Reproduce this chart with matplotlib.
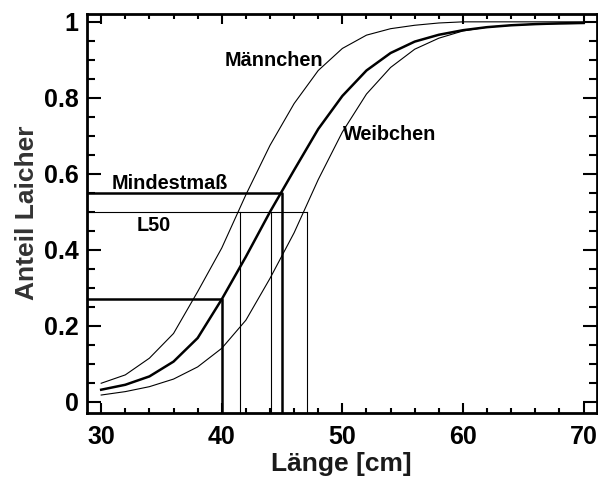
import numpy as np
import matplotlib
matplotlib.use("Agg")
import matplotlib.pyplot as plt
from matplotlib.ticker import MultipleLocator

plt.rcParams['font.family'] = ['Liberation Sans', 'DejaVu Sans']
plt.rcParams['font.weight'] = 'bold'

# Laenge in cm, Anteil geschlechtsreifer Fische
laenge = [30, 32, 34, 36, 38, 40, 42, 44, 46, 48, 50, 52, 54, 56, 58, 60,
          62, 64, 66, 68, 70]
maennchen = [0.049, 0.071, 0.115, 0.180, 0.290, 0.405, 0.545, 0.675, 0.785,
             0.872, 0.930, 0.965, 0.982, 0.991, 0.997, 1.0, 1.0, 1.0, 1.0,
             1.0, 1.0]
gesamt = [0.032, 0.045, 0.067, 0.106, 0.168, 0.270, 0.382, 0.500, 0.610,
          0.718, 0.805, 0.872, 0.918, 0.948, 0.966, 0.978, 0.986, 0.991,
          0.994, 0.996, 0.997]
weibchen = [0.018, 0.027, 0.040, 0.060, 0.092, 0.141, 0.215, 0.325, 0.445,
            0.585, 0.710, 0.810, 0.880, 0.928, 0.957, 0.976, 0.986, 0.991,
            0.994, 0.995, 0.996]

# Mindestmass und L50-Werte
mindestmass = [(40, 0.27), (45, 0.55)]
l50 = [41.5, 44.1, 47.05]
l50_anteil = 0.5

xlo, xhi = 28.8, 71.1
ylo, yhi = -0.028, 1.021

fig = plt.figure(figsize=(5.98, 4.78), dpi=100)
ax = fig.add_axes([0.145, 0.137, 0.853, 0.834])

ax.plot(laenge, maennchen, color='black', lw=0.8)
ax.plot(laenge, weibchen, color='black', lw=0.8)
ax.plot(laenge, gesamt, color='black', lw=1.8)

for x, y in mindestmass:
    ax.plot([xlo, x, x], [y, y, ylo], color='black', lw=1.8)
for x in l50:
    ax.plot([x, x], [ylo, l50_anteil], color='black', lw=0.8)
ax.plot([xlo, max(l50)], [l50_anteil, l50_anteil], color='black', lw=0.8)

txt = dict(fontsize=14.3, fontweight='bold', ha='center', va='center')
ax.text(44.35, 0.897, 'Männchen', **txt)
ax.text(53.9, 0.703, 'Weibchen', **txt)
ax.text(35.7, 0.574, 'Mindestmaß', **txt)
ax.text(34.35, 0.464, 'L50', **txt)

ax.set_xlim(xlo, xhi)
ax.set_ylim(ylo, yhi)
ax.xaxis.set_major_locator(MultipleLocator(10))
ax.xaxis.set_minor_locator(MultipleLocator(2))
ax.yaxis.set_minor_locator(MultipleLocator(0.05))
ax.set_yticks([0, 0.2, 0.4, 0.6, 0.8, 1.0])
ax.set_yticklabels(['0', '0.2', '0.4', '0.6', '0.8', '1'])

ax.tick_params(which='both', direction='in', top=True, right=True,
               width=1.5, labelsize=18)
ax.tick_params(axis='x', which='major', length=7, pad=9)
ax.tick_params(axis='x', which='minor', length=3.5)
ax.tick_params(axis='y', which='major', length=10, pad=6)
ax.tick_params(axis='y', which='minor', length=5.5)
for s in ax.spines.values():
    s.set_linewidth(2)

ax.set_xlabel('Länge [cm]', fontsize=19, fontweight='bold', color='#1a1a1a',
              labelpad=2)
ax.set_ylabel('Anteil Laicher', fontsize=19, fontweight='bold',
              color='#333333', labelpad=3)

fig.savefig('out.png', dpi=100)
